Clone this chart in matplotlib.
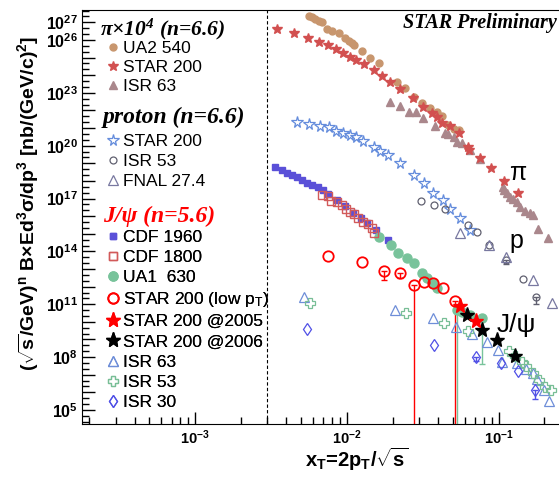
import matplotlib
matplotlib.use('Agg')
import matplotlib.pyplot as plt
from matplotlib.ticker import FixedLocator, NullFormatter

plt.rcParams['font.family'] = ['Liberation Sans', 'DejaVu Sans']
plt.rcParams['mathtext.fontset'] = 'custom'
plt.rcParams['mathtext.rm'] = 'Liberation Sans'
plt.rcParams['mathtext.it'] = 'Liberation Sans:italic'
plt.rcParams['mathtext.bf'] = 'Liberation Sans:bold'
plt.rcParams['mathtext.default'] = 'regular'

# ---- pions (x 10^4), n = 6.6 ----
ua2_x = [0.00561, 0.00590, 0.00621, 0.00652, 0.00687, 0.00741, 0.00800, 0.00883, 0.00977,
         0.01028, 0.0108, 0.0111, 0.0126, 0.0143, 0.0162, 0.0214, 0.0243, 0.0275, 0.0312,
         0.0354, 0.0392, 0.0423, 0.0467, 0.0505, 0.0545]
ua2_y = [2.4e27, 1.95e27, 1.5e27, 1.2e27, 1.1e27, 4.1e26, 3.4e26, 2.4e26, 1.3e26, 9.1e25,
         6.5e25, 5.2e25, 2.5e25, 9.1e24, 4.8e24, 4.3e23, 1.8e23, 6.0e22, 2.8e22, 1.3e22,
         8.5e21, 4.9e21, 1.5e21, 8.5e20, 7.8e20]

star_pi_x = [0.00349, 0.00452, 0.00552, 0.00652, 0.00752, 0.00853, 0.00944, 0.01043, 0.01155,
             0.01303, 0.0150, 0.01705, 0.01914, 0.02225, 0.02748, 0.0320, 0.0364, 0.0392,
             0.0423, 0.0480, 0.0545, 0.0624, 0.0643, 0.0756, 0.0889, 0.1087, 0.1349]
star_pi_y = [4.2e26, 2.4e26, 1.35e26, 7.9e25, 5.2e25, 3.0e25, 1.75e25, 1.12e25, 7.4e24,
             4.4e24, 2.0e24, 9.1e23, 4.3e23, 1.6e23, 5.3e22, 1.5e22, 6.9e21, 4.1e21, 2.0e21,
             1.3e21, 5.0e20, 8.7e19, 5.7e19, 1.9e19, 5.2e18, 1.0e18, 2.1e17]

isr63_pi_x = [0.01914, 0.02249, 0.0255, 0.0286, 0.0320, 0.0382, 0.0444, 0.0467, 0.0505, 0.0531,
              0.0573, 0.0650, 0.0756, 0.1066, 0.1087, 0.1132, 0.1191, 0.1251, 0.1318, 0.1384,
              0.1494, 0.1611, 0.1694, 0.1827, 0.2128]
isr63_pi_y = [3.2e22, 1.8e22, 8.5e21, 8.5e21, 3.6e21, 1.3e21, 5.0e20, 4.6e20, 3.2e20, 1.7e20,
              1.5e20, 5.7e19, 1.7e19, 4.7e17, 3.1e17, 2.0e17, 1.3e17, 9.1e16, 6.6e16, 3.5e16,
              2.0e16, 1.45e16, 1.2e16, 1.8e15, 5.5e14]

# ---- protons, n = 6.6 ----
star_p_x = [0.00470, 0.00561, 0.00662, 0.00759, 0.00853, 0.00944, 0.01043, 0.01155, 0.0128,
            0.0150, 0.0166, 0.0188, 0.0225, 0.0275, 0.0324, 0.0372, 0.0430, 0.0480, 0.0558,
            0.0650]
star_p_y = [2.3e21, 1.7e21, 1.3e21, 1.1e21, 7.1e20, 5.5e20, 4.1e20, 3.0e20, 1.9e20, 8.7e19,
            5.2e19, 3.0e19, 1.0e19, 2.2e18, 7.4e17, 2.1e17, 8.3e16, 2.5e16, 7.6e15, 1.7e15]

isr53_p_x = [0.0308, 0.0377, 0.0441, 0.0633, 0.0722, 0.0869, 0.1119, 0.1456, 0.1765]
isr53_p_y = [7.6e16, 4.3e16, 2.4e16, 3.0e15, 1.2e15, 2.2e14, 3.3e13, 2.7e12, 2.7e11]
isr53_p_lo = [0, 0, 0, 0, 0, 0, 1.3e13, 0, 1.6e11]

fnal_x = [0.0558, 0.0863, 0.1126, 0.1675, 0.2240]
fnal_y = [1.05e15, 2.2e14, 4.5e13, 2.3e12, 1.15e11]

# ---- J/psi, n = 5.6 ----
cdf1960_x = [0.00337, 0.00373, 0.00402, 0.00433, 0.00467, 0.00505, 0.00544, 0.00587, 0.00643,
             0.00700, 0.00755, 0.00857, 0.00973, 0.0110, 0.0124, 0.0135, 0.0155, 0.0187]
cdf1960_y = [6.5e18, 4.2e18, 2.9e18, 2.2e18, 1.6e18, 1.15e18, 8.0e17, 5.9e17, 4.4e17, 3.1e17,
             1.8e17, 8.3e16, 3.8e16, 1.6e16, 7.6e15, 4.3e15, 1.7e15, 4.5e14]

cdf1800_x = [0.00683, 0.00748, 0.00787, 0.00857, 0.00924, 0.00982, 0.0105, 0.0112, 0.0119,
             0.0128, 0.0137, 0.0146, 0.0152]
cdf1800_y = [1.6e17, 1.4e17, 7.6e16, 6.6e16, 4.3e16, 2.5e16, 1.8e16, 1.3e16, 7.6e15, 4.9e15,
             3.6e15, 2.0e15, 1.15e15]

ua1_x = [0.0162, 0.0196, 0.0219, 0.0249, 0.0275, 0.0312, 0.0337, 0.0369, 0.0392, 0.0529,
         0.0573, 0.0650, 0.0775]
ua1_y = [6.3e14, 2.3e14, 8.5e13, 4.1e13, 2.1e13, 6.2e12, 3.2e12, 1.55e12, 8.3e11, 5.0e10,
         3.8e10, 2.5e10, 1.6e10]
ua1_lo = [0, 0, 0, 0, 0, 0, 0, 0, 0, 5.0e10 - 1, 0, 0, 1.6e10 - 4.0e7]

lowpt_x = [0.00754, 0.01256, 0.01758, 0.0225, 0.0275, 0.0324, 0.0372, 0.0430, 0.0518]
lowpt_y = [5.5e13, 2.6e13, 7.6e12, 5.8e12, 1.2e12, 1.9e12, 1.55e12, 8.1e11, 1.6e11]
lowpt_lo = [0, 0, 7.6e12 - 2.5e12, 5.8e12 - 2.9e12, 1.2e12 - 1, 0, 0, 0, 1.6e11 - 1]

star05_x = [0.0553, 0.0711]
star05_y = [7.9e10, 1.1e10]

star06_x = [0.0618, 0.0773, 0.0972, 0.1273]
star06_y = [2.3e10, 3.5e9, 9.8e8, 1.15e8]

isr63_j_x = [0.00520, 0.0208, 0.0369, 0.0521, 0.0670, 0.0840, 0.0997, 0.1050, 0.1330, 0.1518,
             0.1679, 0.1800, 0.1991, 0.2158]
isr63_j_y = [2.7e11, 4.8e10, 1.7e10, 4.9e9, 2.0e9, 7.6e8, 2.6e8, 5.5e7, 4.5e7, 2.0e7, 1.2e7,
             5.5e6, 1.4e6, 3.4e5]

isr53_j_x = [0.00569, 0.0244, 0.0434, 0.0625, 0.1164, 0.1285, 0.1422, 0.1518, 0.1696, 0.1855,
             0.2021, 0.2205]
isr53_j_y = [1.2e11, 3.1e10, 8.3e9, 3.1e9, 2.2e8, 1.15e8, 5.5e7, 3.2e7, 1.2e7, 5.0e6, 2.1e6,
             1.4e6]

isr30_x = [0.00547, 0.0377, 0.0711, 0.1033, 0.1349, 0.1725]
isr30_y = [3.8e9, 5.1e8, 1.05e8, 4.5e7, 1.7e7, 1.4e6]
isr30_lo = [0, 0, 4.5e7, 0, 0, 1.0e6]

W, H = 559, 478
fig = plt.figure(figsize=(W / 100, H / 100), dpi=100)
ax = fig.add_axes([82 / W, 1 - 424 / H, 1 - 82 / W, 414 / H])


def pts(x, y, **kw):
    return ax.plot(x, y, ls='none', **kw)[0]


def errs(x, y, lo, color):
    for xi, yi, li in zip(x, y, lo):
        if li > 0:
            ax.errorbar([xi], [yi], yerr=[[li], [0]], fmt='none', ecolor=color,
                        elinewidth=1, capsize=2, zorder=2)


ax.axvline(0.003, color='black', ls=(0, (3, 2)), lw=0.8, zorder=1)

# pions
h_ua2 = pts(ua2_x, ua2_y, marker='o', ms=5, color='#C8966E', mec='#C8966E', zorder=3)
h_spi = pts(star_pi_x, star_pi_y, marker='*', ms=7.5, color='#D25050', mec='#D25050', zorder=4)
h_ipi = pts(isr63_pi_x, isr63_pi_y, marker='^', ms=5.5, color='#AA878C', mec='#AA878C', zorder=3)

# protons
h_sp = pts(star_p_x, star_p_y, marker='*', ms=8.5, mfc='none', mec='#648CDC', mew=0.9, zorder=3)
errs(isr53_p_x, isr53_p_y, isr53_p_lo, '#606070')
h_ip = pts(isr53_p_x, isr53_p_y, marker='o', ms=5, mfc='none', mec='#606070', mew=0.9, zorder=3)
h_fn = pts(fnal_x, fnal_y, marker='^', ms=6.5, mfc='none', mec='#7878A0', mew=0.9, zorder=3)

# J/psi
h_c19 = pts(cdf1960_x, cdf1960_y, marker='s', ms=5, color='#5A50D8', mec='#5A50D8', zorder=3)
h_c18 = pts(cdf1800_x, cdf1800_y, marker='s', ms=6, mfc='none', mec='#D25A5A', mew=1.0, zorder=4)
errs(ua1_x, ua1_y, ua1_lo, '#78C39B')
h_ua1 = pts(ua1_x, ua1_y, marker='o', ms=6.5, color='#78C39B', mec='#78C39B', zorder=3)
errs(lowpt_x, lowpt_y, lowpt_lo, 'red')
h_low = pts(lowpt_x, lowpt_y, marker='o', ms=7.5, mfc='none', mec='red', mew=1.3, zorder=5)
h_s05 = pts(star05_x, star05_y, marker='*', ms=11, color='red', mec='red', zorder=7)
h_s06 = pts(star06_x, star06_y, marker='*', ms=11, color='black', mec='black', zorder=6)
h_i63 = pts(isr63_j_x, isr63_j_y, marker='^', ms=7.5, mfc='none', mec='#6E8ED8', mew=0.9, zorder=3)
h_i53 = pts(isr53_j_x, isr53_j_y, marker='P', ms=7.5, mfc='none', mec='#78BE96', mew=0.9, zorder=3)
errs(isr30_x, isr30_y, isr30_lo, '#5050E6')
h_i30 = pts(isr30_x, isr30_y, marker='d', ms=6.5, mfc='none', mec='#5050E6', mew=0.9, zorder=3)

ax.set_xscale('log')
ax.set_yscale('log')
ax.set_xlim(1.8e-4, 0.25)
ax.set_ylim(1.6e4, 5e27)

ax.xaxis.set_major_locator(FixedLocator([1e-3, 1e-2, 1e-1]))
ax.set_xticklabels([r'$10^{-3}$', r'$10^{-2}$', r'$10^{-1}$'])
ax.xaxis.set_minor_locator(FixedLocator([m * 10.0 ** e for e in (-4, -3, -2, -1)
                                         for m in range(2, 10)]))
ax.xaxis.set_minor_formatter(NullFormatter())

ydec = list(range(5, 28))
ylab = [5, 8, 11, 14, 17, 20, 23, 26, 27]
ax.yaxis.set_major_locator(FixedLocator([10.0 ** e for e in ydec]))
ax.set_yticklabels([r'$10^{%d}$' % e if e in ylab else '' for e in ydec])
ax.yaxis.set_minor_locator(FixedLocator([10.0 ** (e + f) for e in range(4, 28)
                                         for f in (1 / 3, 2 / 3)]))
ax.yaxis.set_minor_formatter(NullFormatter())

ax.tick_params(which='both', direction='in', pad=3)
ax.tick_params(axis='x', labelsize=10.5)
ax.tick_params(axis='y', labelsize=11.5)
ax.tick_params(which='major', length=9, width=1)
ax.tick_params(which='minor', length=5, width=1)
for lbl in ax.get_xticklabels() + ax.get_yticklabels():
    lbl.set_fontweight('bold')
ax.spines['right'].set_visible(False)

fig.text(28 / W, 1 - 203 / H,
         r'($\sqrt{s}$/GeV)$^{n}$ B$\times$Ed$^{3}$$\sigma$/dp$^{3}$ [nb/(GeV/c)$^{2}$]',
         rotation=90, ha='center', va='center', fontsize=14, fontweight='bold')
fig.text(357 / W, 1 - 459 / H, r'x$_{T}$=2p$_{T}$/$\sqrt{s}$',
         ha='center', va='center', fontsize=14.5, fontweight='bold')

serif = dict(family=['Liberation Serif', 'DejaVu Serif'], style='italic', weight='bold')
fig.text(100 / W, 1 - 29 / H, r'π×10$^{4}$ (n=6.6)', ha='left', va='center', fontsize=15.5,
         **serif)
fig.text(103 / W, 1 - 117 / H, 'proton (n=6.6)', ha='left', va='center', fontsize=17, **serif)
fig.text(103 / W, 1 - 216 / H, 'J/ψ (n=5.6)', ha='left', va='center', fontsize=17,
         color='red', **serif)
fig.text(557 / W, 1 - 23 / H, 'STAR Preliminary', ha='right', va='center', fontsize=14.5, **serif)

fig.text(509 / W, 1 - 173 / H, 'π', ha='left', va='center', fontsize=18)
fig.text(509 / W, 1 - 241 / H, 'p', ha='left', va='center', fontsize=18)
fig.text(497 / W, 1 - 325 / H, 'J/ψ', ha='left', va='center', fontsize=19)

leg_kw = dict(loc='upper left', bbox_transform=fig.transFigure, frameon=False, fontsize=12.5,
              borderpad=0, borderaxespad=0, handlelength=0.7, handletextpad=0.22)
groups = [
    ([h_ua2, h_spi, h_ipi], ['UA2 540', 'STAR 200', 'ISR 63'], 40.5, 0.22),
    ([h_sp, h_ip, h_fn], ['STAR 200', 'ISR 53', 'FNAL 27.4'], 133.5, 0.29),
    ([h_c19, h_c18, h_ua1, h_low, h_s05, h_s06, h_i63, h_i53, h_i30],
     ['CDF 1960', 'CDF 1800', 'UA1  630', r'STAR 200 (low p$_{T}$)', 'STAR 200 @2005',
      'STAR 200 @2006', 'ISR 63', 'ISR 53', 'ISR 30'], 229.5, 0.29),
]
for handles, labels, top, spacing in groups:
    leg = ax.legend(handles, labels, bbox_to_anchor=(107 / W, 1 - top / H),
                    labelspacing=spacing, **leg_kw)
    ax.add_artist(leg)

fig.savefig('out.png', dpi=100)
